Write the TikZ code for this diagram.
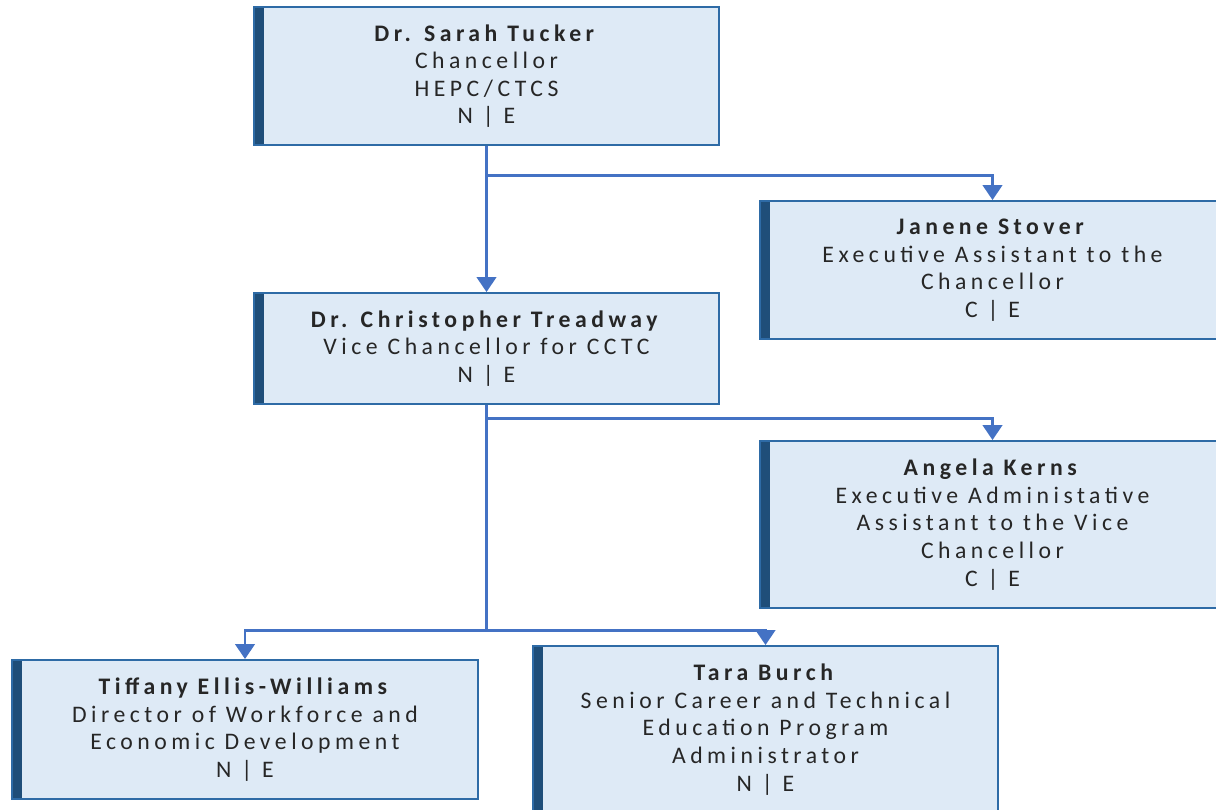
\documentclass[tikz,border=0pt]{standalone}
\usepackage{fontspec}
\setmainfont{Carlito}[LetterSpace=19]
\usetikzlibrary{arrows.meta}

\definecolor{boxfill}{HTML}{DEEAF6}
\definecolor{boxline}{HTML}{2E6BA6}
\definecolor{boxbar}{HTML}{1F4E79}
\definecolor{linkblue}{HTML}{4472C4}
\definecolor{textgray}{HTML}{262626}

\begin{document}
\begin{tikzpicture}[x=0.02cm, y=-0.02cm,
	person/.style={draw=boxline, fill=boxfill, line width=1.1pt,
		minimum width=9.3cm, inner sep=0pt, align=center, text=textgray,
		font=\fontsize{13.5}{15.7}\selectfont,
		path picture={\fill[boxbar] (path picture bounding box.north west)
			rectangle ([xshift=0.2cm]path picture bounding box.south west);}},
	link/.style={linkblue, line width=1.7pt},
	linkarrow/.style={link, -{Triangle[length=8.5pt, width=11pt]}}]

\useasboundingbox (0,0) rectangle (1216,809);
\clip (0,0) rectangle (1216,809);

\node[person, minimum height=2.76cm] (tucker) at (486.5,76)
	{\textbf{Dr. Sarah Tucker}\\Chancellor\\HEPC/CTCS\\N | E};
\node[person, minimum height=2.76cm] (stover) at (992.5,270)
	{\textbf{Janene Stover}\\Executive Assistant to the\\Chancellor\\C | E};
\node[person, minimum height=2.22cm] (treadway) at (486.5,348.5)
	{\textbf{Dr. Christopher Treadway}\\Vice Chancellor for CCTC\\N | E};
\node[person, minimum height=3.34cm] (kerns) at (992.5,524.5)
	{\textbf{Angela Kerns}\\Executive Administative\\Assistant to the Vice\\Chancellor\\C | E};
\node[person, minimum width=9.32cm, minimum height=2.78cm] (ellis) at (245,729.5)
	{\textbf{Tiffany Ellis-Williams}\\Director of Workforce and\\Economic Development\\N | E};
\node[person, minimum height=3.34cm] (burch) at (765.5,729.5)
	{\textbf{Tara Burch}\\Senior Career and Technical\\Education Program\\Administrator\\N | E};

\coordinate (split1) at (486.5,175);
\coordinate (split2) at (486.5,418);
\coordinate (split3) at (486.5,630);

\draw[linkarrow] (tucker.south) -- (treadway.north);
\draw[linkarrow] (split1) -| (stover.north);
\draw[link] (treadway.south) -- (split3);
\draw[linkarrow] (split2) -| (kerns.north);
\draw[linkarrow] (split3) -| (ellis.north);
\draw[linkarrow] (split3) -| (burch.north);

\end{tikzpicture}
\end{document}
